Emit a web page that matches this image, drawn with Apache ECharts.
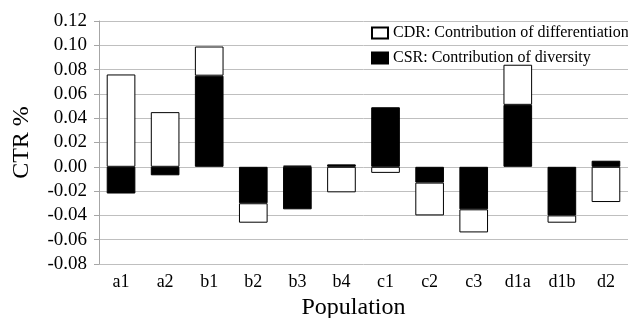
<!DOCTYPE html>
<html><head><meta charset="utf-8">
<script src="https://cdn.jsdelivr.net/npm/echarts@6/dist/echarts.min.js"></script>
<style>html,body{margin:0;padding:0;background:#fff}#c{width:628px;height:318px}</style>
</head><body><div id="c"></div>
<script>
const categories = ['a1','a2','b1','b2','b3','b4','c1','c2','c3','d1a','d1b','d2'];
const csr = [-0.022,-0.007,0.075,-0.030,-0.035,0.002,0.049,-0.013,-0.035,0.051,-0.040,0.005];
const cdr = [0.076,0.045,0.024,-0.016,0.001,-0.021,-0.005,-0.027,-0.019,0.033,-0.006,-0.029];
const yTicks = [-0.08,-0.06,-0.04,-0.02,0,0.02,0.04,0.06,0.08,0.10,0.12];
const FONT = '"Liberation Serif", "DejaVu Serif", serif';
const chart = echarts.init(document.getElementById('c'));
chart.setOption({
  animation: false,
  textStyle: {fontFamily: FONT, color: '#000'},
  grid: {left: 99, right: 0, top: 21, bottom: 54, containLabel: false, outerBoundsMode: 'none'},
  legend: {
    orient: 'vertical', left: 371, top: 25, padding: 0, itemWidth: 16, itemHeight: 11, itemGap: 9,
    data: ['CDR: Contribution of differentiation','CSR: Contribution of diversity'],
    textStyle: {fontFamily: FONT, fontSize: 16, color: '#000'},
    icon: 'rect'
  },
  xAxis: {
    type: 'category', data: categories,
    name: 'Population', nameLocation: 'middle', nameGap: 28,
    nameTextStyle: {fontFamily: FONT, fontSize: 24, color: '#000', padding: [0,20,0,0]},
    axisLine: {show: false}, axisTick: {show: false},
    axisLabel: {fontFamily: FONT, fontSize: 18, color: '#000', margin: 9}
  },
  yAxis: {
    type: 'value', min: -0.08, max: 0.12, interval: 0.02,
    name: 'CTR %', nameLocation: 'middle', nameGap: 65,
    nameTextStyle: {fontFamily: FONT, fontSize: 24, color: '#000'},
    axisLine: {show: true, lineStyle: {color: '#a6a6a6'}},
    axisTick: {show: true, length: 5, lineStyle: {color: '#a6a6a6'}},
    splitLine: {lineStyle: {color: '#bfbfbf', width: 1}},
    axisLabel: {fontFamily: FONT, fontSize: 19, color: '#000', margin: 12,
      formatter: v => { const t = yTicks.find(x => Math.abs(x - v) < 1e-9); return (t !== undefined ? t : v).toFixed(2); }}
  },
  series: [
    {name: 'CSR: Contribution of diversity', type: 'bar', stack: 'ctr', data: csr, barCategoryGap: '35%',
     itemStyle: {color: '#000', borderColor: '#000', borderWidth: 1}},
    {name: 'CDR: Contribution of differentiation', type: 'bar', stack: 'ctr', data: cdr,
     itemStyle: {color: '#fff', borderColor: '#000', borderWidth: 1}}
  ]
});
</script></body></html>
